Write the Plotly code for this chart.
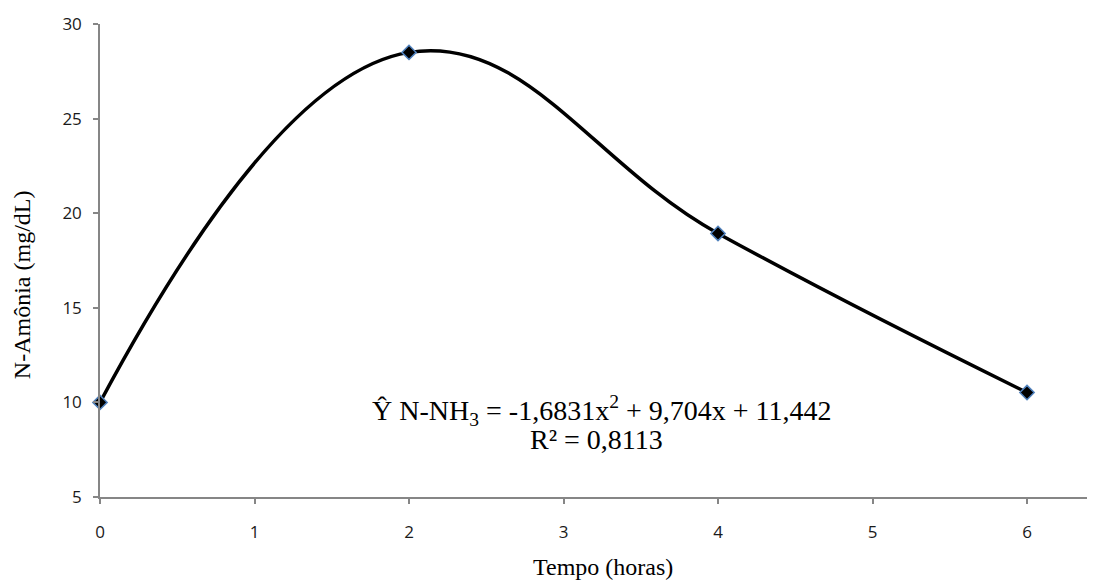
import plotly.graph_objects as go

tempo = [0, 2, 4, 6]
n_amonia = [10.0, 28.5, 18.93, 10.52]
x_ticks = [0, 1, 2, 3, 4, 5, 6]
y_ticks = [5, 10, 15, 20, 25, 30]

fig = go.Figure()
fig.add_trace(go.Scatter(
    x=tempo, y=n_amonia, mode="lines+markers",
    line=dict(color="black", width=3.5, shape="spline", smoothing=1.2),
    marker=dict(symbol="diamond", size=11, color="black",
                line=dict(color="#4F81BD", width=1.5)),
    showlegend=False, cliponaxis=False,
))

axis_common = dict(
    showgrid=False, zeroline=False, showline=True,
    linecolor="#868686", linewidth=1.5,
    ticks="outside", ticklen=5, tickcolor="#868686", tickwidth=1.5,
    tickfont=dict(family="Open Sans", size=17, color="#1a1a1a"),
)

fig.update_xaxes(range=[0, 6.44], tickvals=x_ticks, ticklabelstandoff=14, **axis_common)
fig.update_yaxes(range=[5, 30], tickvals=y_ticks, ticklabelstandoff=8, **axis_common)

serif = "Liberation Serif"
fig.add_annotation(x=0.5055, y=-0.148, xref="paper", yref="paper",
                   xanchor="center", yanchor="middle",
                   text="Tempo (horas)", showarrow=False,
                   font=dict(family=serif, size=24, color="black"))
fig.add_annotation(x=-0.0784, y=0.45, xref="paper", yref="paper",
                   xanchor="center", yanchor="middle",
                   text="N-Amônia (mg/dL)", showarrow=False, textangle=-90,
                   font=dict(family=serif, size=24, color="black"))
fig.add_annotation(x=3.246, y=9.58, xref="x", yref="y",
                   text="Ŷ N-NH<sub>3</sub> = -1,6831x<sup>2</sup> + 9,704x + 11,442",
                   showarrow=False, font=dict(family=serif, size=28, color="black"))
fig.add_annotation(x=3.214, y=8.04, xref="x", yref="y",
                   text="R² = 0,8113",
                   showarrow=False, font=dict(family=serif, size=28, color="black"))

fig.update_layout(
    width=1087, height=573,
    margin=dict(l=92, r=0, t=16, b=84),
    plot_bgcolor="white", paper_bgcolor="white",
)

fig.write_html("out.html")
